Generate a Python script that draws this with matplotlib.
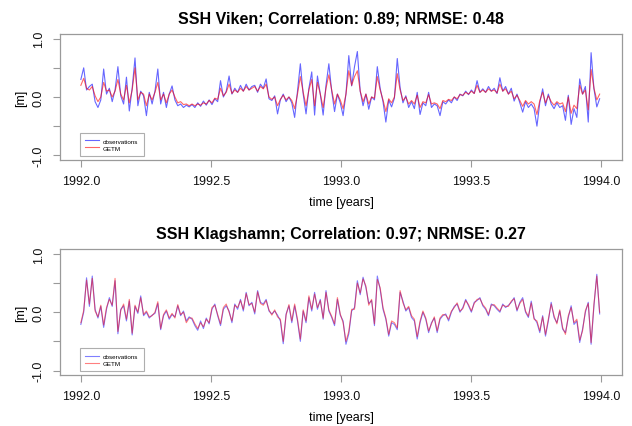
#!/usr/bin/env python3
"""
SSH comparison plot: tide gauge observations vs GETM, 1992-1993
"""

import numpy as np
import matplotlib
matplotlib.use('Agg')
import matplotlib.pyplot as plt

plt.rcParams['font.family'] = ['Liberation Sans', 'DejaVu Sans']

OUT_FILE = 'out.png'

# sampled every 4 days from 1992-01-01
SAMPLE_STEP_DAYS = 4
N_SAMPLES = 183

# --- Viken ---
viken_title = 'SSH Viken; Correlation: 0.89; NRMSE: 0.48'
viken_obs = [
    0.30, 0.50, 0.12, 0.18, 0.22, -0.08, -0.18, -0.05, 0.48, 0.05,
    0.15, -0.08, 0.12, 0.52, 0.02, -0.12, 0.34, -0.24, 0.15, 0.67,
    -0.15, 0.10, 0.02, -0.32, 0.08, -0.12, 0.10, 0.48, -0.12, 0.08,
    -0.18, 0.05, 0.19, -0.05, -0.15, -0.12, -0.18, -0.14, -0.17, -0.13,
    -0.18, -0.10, -0.16, -0.07, -0.14, -0.05, -0.13, -0.03, -0.08, 0.28,
    0.00, 0.10, 0.36, 0.05, 0.15, 0.08, 0.20, 0.10, 0.22, 0.12,
    0.18, 0.20, 0.08, 0.22, 0.15, 0.31, -0.03, -0.06, 0.02, -0.29,
    -0.05, 0.05, -0.08, 0.00, -0.10, -0.35, 0.10, 0.57, 0.05, -0.29,
    0.15, 0.43, -0.31, 0.36, 0.05, -0.31, 0.20, 0.57, 0.10, -0.25,
    0.05, -0.10, -0.32, 0.05, 0.71, 0.19, 0.52, 0.78, 0.10, -0.15,
    0.05, -0.21, 0.00, -0.05, 0.52, 0.15, -0.08, -0.43, -0.05, -0.17,
    -0.02, 0.66, 0.16, -0.10, 0.02, -0.18, -0.08, -0.20, 0.08, -0.30,
    -0.10, -0.15, 0.08, -0.18, -0.12, -0.15, -0.32, -0.08, -0.12, -0.05,
    -0.10, 0.00, -0.06, 0.05, 0.02, 0.10, 0.04, 0.12, 0.06, 0.28,
    0.08, 0.14, 0.08, 0.18, 0.10, 0.15, 0.06, 0.33, 0.10, 0.18,
    0.05, 0.15, -0.07, 0.05, -0.10, -0.26, -0.08, -0.18, -0.12, -0.20,
    -0.50, -0.10, 0.14, -0.15, 0.05, -0.12, -0.20, -0.10, -0.18, -0.15,
    -0.40, 0.03, -0.47, -0.20, -0.35, 0.31, 0.05, 0.18, -0.43, 0.76,
    0.14, -0.17, -0.03,
]
viken_getm = [
    0.20, 0.32, 0.15, 0.12, 0.18, 0.02, -0.08, 0.00, 0.25, 0.10,
    0.12, 0.00, 0.10, 0.30, 0.05, -0.05, 0.20, -0.10, 0.12, 0.50,
    -0.05, 0.08, 0.05, -0.15, 0.05, -0.05, 0.08, 0.25, -0.05, 0.05,
    -0.10, 0.05, 0.12, 0.00, -0.10, -0.08, -0.13, -0.12, -0.15, -0.12,
    -0.15, -0.12, -0.14, -0.10, -0.12, -0.06, -0.10, -0.02, -0.04, 0.15,
    0.02, 0.08, 0.22, 0.06, 0.12, 0.08, 0.15, 0.10, 0.18, 0.12,
    0.15, 0.18, 0.10, 0.18, 0.14, 0.22, 0.00, -0.04, 0.00, -0.15,
    -0.04, 0.03, -0.05, 0.00, -0.06, -0.20, 0.05, 0.35, 0.08, -0.15,
    0.12, 0.30, -0.15, 0.25, 0.05, -0.18, 0.15, 0.38, 0.12, -0.12,
    0.05, -0.05, -0.20, 0.05, 0.45, 0.20, 0.35, 0.45, 0.10, -0.08,
    0.05, -0.12, 0.00, -0.02, 0.35, 0.12, -0.05, -0.25, -0.03, -0.10,
    0.00, 0.40, 0.12, -0.06, 0.00, -0.12, -0.06, -0.12, 0.03, -0.18,
    -0.08, -0.10, 0.04, -0.12, -0.10, -0.12, -0.20, -0.06, -0.08, -0.04,
    -0.06, 0.00, -0.03, 0.04, 0.03, 0.08, 0.05, 0.10, 0.06, 0.20,
    0.08, 0.12, 0.08, 0.14, 0.10, 0.12, 0.07, 0.22, 0.10, 0.14,
    0.05, 0.10, -0.03, 0.03, -0.06, -0.16, -0.06, -0.12, -0.08, -0.12,
    -0.30, -0.06, 0.08, -0.10, 0.02, -0.08, -0.14, -0.08, -0.12, -0.10,
    -0.25, 0.00, -0.28, -0.14, -0.20, 0.20, 0.05, 0.12, -0.22, 0.47,
    0.15, -0.05, 0.05,
]

# --- Klagshamn ---
klag_title = 'SSH Klagshamn; Correlation: 0.97; NRMSE: 0.27'
klag_obs = [
    -0.21, 0.00, 0.59, 0.10, 0.62, 0.05, -0.10, 0.10, -0.26, 0.05,
    0.25, 0.10, 0.54, -0.37, 0.05, 0.11, -0.15, 0.19, -0.39, 0.10,
    -0.02, 0.28, -0.06, 0.00, -0.10, -0.05, -0.02, 0.15, -0.30, -0.06,
    0.02, -0.12, -0.04, -0.08, 0.11, -0.06, 0.02, -0.15, -0.08, -0.12,
    -0.23, -0.31, -0.15, -0.28, -0.10, -0.20, 0.05, 0.14, -0.06, -0.23,
    0.05, 0.11, 0.02, -0.18, 0.14, 0.05, 0.22, 0.02, 0.34, 0.11,
    0.17, -0.03, 0.37, 0.17, 0.14, 0.22, 0.02, -0.03, 0.02, -0.05,
    -0.15, -0.54, -0.03, 0.11, -0.18, 0.11, -0.15, -0.50, 0.02, -0.18,
    0.25, 0.02, 0.34, 0.05, 0.22, -0.12, 0.37, 0.02, -0.09, -0.23,
    0.22, -0.05, -0.15, -0.55, -0.37, 0.02, 0.08, 0.54, 0.30, 0.60,
    0.42, 0.15, 0.20, -0.23, 0.62, 0.39, 0.05, -0.12, -0.41, -0.18,
    -0.21, -0.30, 0.34, 0.19, 0.02, 0.08, -0.09, -0.15, -0.46, -0.18,
    0.00, -0.12, -0.35, -0.18, -0.10, -0.35, -0.12, -0.06, -0.03, -0.15,
    0.00, 0.10, 0.14, 0.00, 0.08, 0.22, 0.11, 0.00, 0.17, 0.20,
    0.25, 0.11, 0.05, -0.06, 0.14, 0.11, 0.05, 0.00, 0.14, 0.08,
    0.12, 0.17, 0.25, 0.02, 0.17, 0.25, 0.00, -0.09, 0.19, -0.10,
    -0.18, -0.35, -0.06, -0.41, -0.15, 0.17, -0.09, -0.18, 0.02, -0.29,
    -0.35, -0.09, 0.11, -0.21, -0.15, -0.52, -0.29, 0.00, 0.17, -0.55,
    0.11, 0.65, -0.03,
]
klag_getm = [
    -0.18, 0.03, 0.55, 0.14, 0.58, 0.02, -0.08, 0.12, -0.22, 0.08,
    0.22, 0.12, 0.58, -0.33, 0.03, 0.14, -0.12, 0.22, -0.36, 0.12,
    0.00, 0.25, -0.04, 0.02, -0.08, -0.06, 0.00, 0.18, -0.28, -0.04,
    0.04, -0.10, -0.02, -0.10, 0.13, -0.04, 0.00, -0.18, -0.10, -0.10,
    -0.20, -0.28, -0.18, -0.25, -0.12, -0.18, 0.08, 0.12, -0.04, -0.20,
    0.08, 0.14, 0.00, -0.15, 0.12, 0.08, 0.20, 0.05, 0.32, 0.13,
    0.15, 0.00, 0.35, 0.15, 0.12, 0.20, 0.04, -0.05, 0.04, -0.08,
    -0.12, -0.50, -0.05, 0.13, -0.15, 0.14, -0.12, -0.46, 0.04, -0.15,
    0.28, 0.05, 0.31, 0.08, 0.20, -0.10, 0.34, 0.04, -0.07, -0.20,
    0.25, -0.03, -0.18, -0.50, -0.33, 0.05, 0.05, 0.50, 0.33, 0.57,
    0.45, 0.12, 0.22, -0.20, 0.56, 0.42, 0.08, -0.10, -0.38, -0.15,
    -0.18, -0.27, 0.37, 0.16, 0.04, 0.10, -0.06, -0.12, -0.42, -0.15,
    0.02, -0.10, -0.32, -0.20, -0.08, -0.32, -0.10, -0.04, -0.05, -0.12,
    0.02, 0.08, 0.16, 0.02, 0.06, 0.20, 0.13, 0.02, 0.15, 0.22,
    0.23, 0.13, 0.07, -0.04, 0.12, 0.13, 0.07, 0.02, 0.12, 0.10,
    0.10, 0.19, 0.23, 0.04, 0.15, 0.22, 0.02, -0.07, 0.16, -0.12,
    -0.15, -0.32, -0.08, -0.38, -0.12, 0.14, -0.06, -0.20, 0.04, -0.26,
    -0.38, -0.06, 0.08, -0.18, -0.12, -0.48, -0.32, 0.03, 0.15, -0.52,
    0.14, 0.62, 0.00,
]

xticks = [1992.0, 1992.5, 1993.0, 1993.5, 1994.0]
yticks = [-1.0, -0.5, 0.0, 0.5, 1.0]
ytick_labels = ['-1.0', '', '0.0', '', '1.0']

AXIS_GRAY = '#9a9a9a'


def style_axes(ax):
    for side in ax.spines.values():
        side.set_color(AXIS_GRAY)
        side.set_linewidth(0.9)
    ax.set_xlim(1991.92, 1994.08)
    ax.set_ylim(-1.08, 1.08)
    ax.set_xticks(xticks)
    ax.set_xticklabels([f'{t:.1f}' for t in xticks])
    ax.set_yticks(yticks)
    ax.set_yticklabels(ytick_labels, rotation=90, va='center')
    ax.tick_params(direction='out', length=5, width=0.8, color=AXIS_GRAY,
                   labelsize=9, labelcolor='#111111', pad=6)
    ax.set_xlabel('time [years]', fontsize=9, labelpad=6)
    ax.set_ylabel('[m]', fontsize=9, labelpad=4)


def plot_panel(ax, title, obs, getm, alpha):
    t = 1992.0 + np.arange(N_SAMPLES) * SAMPLE_STEP_DAYS / 365.0
    ax.plot(t, obs, color='blue', lw=0.8, alpha=alpha, label='observations')
    ax.plot(t, getm, color='red', lw=0.8, alpha=alpha, label='GETM')
    ax.set_title(title, fontsize=11.5, fontweight='bold', pad=8)
    style_axes(ax)
    leg = ax.legend(loc='lower left', bbox_to_anchor=(0.035, 0.03),
                    borderaxespad=0, fontsize=4.5, fancybox=False,
                    handlelength=2.2, handletextpad=0.6, borderpad=0.9,
                    labelspacing=0.25)
    leg.get_frame().set_edgecolor(AXIS_GRAY)
    leg.get_frame().set_linewidth(0.8)


def main():
    fig = plt.figure(figsize=(6.32, 4.27), dpi=100)
    ax_top = fig.add_axes([0.095, 0.623, 0.889, 0.295])
    ax_bot = fig.add_axes([0.095, 0.119, 0.889, 0.295])

    plot_panel(ax_top, viken_title, viken_obs, viken_getm, 0.6)
    plot_panel(ax_bot, klag_title, klag_obs, klag_getm, 0.5)

    fig.savefig(OUT_FILE, dpi=100)
    print(f"Saved {OUT_FILE}")


if __name__ == "__main__":
    main()
